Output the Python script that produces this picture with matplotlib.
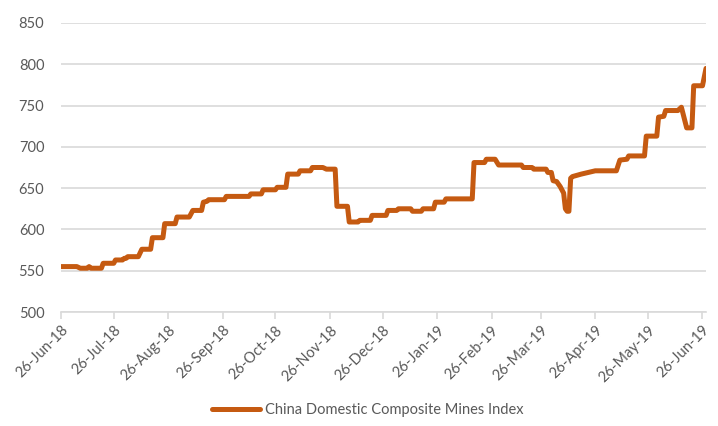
import pandas as pd
import matplotlib
matplotlib.use("Agg")
import matplotlib.pyplot as plt
import matplotlib.dates as mdates

# Index values (weekly steps)
dates = [
    "2018-06-26", "2018-07-05", "2018-07-07", "2018-07-11", "2018-07-12", "2018-07-13",
    "2018-07-19", "2018-07-20", "2018-07-26", "2018-07-27", "2018-07-31", "2018-08-01",
    "2018-08-02", "2018-08-03", "2018-08-09", "2018-08-11", "2018-08-16", "2018-08-17",
    "2018-08-23", "2018-08-24", "2018-08-30", "2018-08-31", "2018-09-07", "2018-09-09",
    "2018-09-14", "2018-09-15", "2018-09-17", "2018-09-18", "2018-09-27", "2018-09-28",
    "2018-10-11", "2018-10-12", "2018-10-18", "2018-10-19", "2018-10-26", "2018-10-27",
    "2018-11-01", "2018-11-02", "2018-11-08", "2018-11-09", "2018-11-15", "2018-11-16",
    "2018-11-22", "2018-11-24", "2018-11-29", "2018-11-30", "2018-12-06", "2018-12-07",
    "2018-12-12", "2018-12-13", "2018-12-19", "2018-12-20", "2018-12-28", "2018-12-29",
    "2019-01-03", "2019-01-04", "2019-01-11", "2019-01-12", "2019-01-17", "2019-01-18",
    "2019-01-24", "2019-01-25", "2019-01-30", "2019-01-31", "2019-02-15", "2019-02-16",
    "2019-02-22", "2019-02-23", "2019-02-28", "2019-03-02", "2019-03-15", "2019-03-16",
    "2019-03-21", "2019-03-22", "2019-03-29", "2019-03-30", "2019-04-01", "2019-04-02",
    "2019-04-04", "2019-04-06", "2019-04-08", "2019-04-09", "2019-04-10", "2019-04-11",
    "2019-04-12", "2019-04-13", "2019-04-18", "2019-04-24", "2019-04-26", "2019-05-08",
    "2019-05-10", "2019-05-14", "2019-05-15", "2019-05-24", "2019-05-25", "2019-05-31",
    "2019-06-01", "2019-06-04", "2019-06-05", "2019-06-12", "2019-06-14", "2019-06-17",
    "2019-06-20", "2019-06-21", "2019-06-26", "2019-06-28",
]
values = [
    555, 555, 553, 553, 555, 553,
    553, 559, 559, 563, 563, 565,
    565, 567, 567, 576, 576, 590,
    590, 607, 607, 615, 615, 623,
    623, 633, 634, 636, 636, 640,
    640, 643, 643, 648, 648, 651,
    651, 667, 667, 671, 671, 675,
    675, 673, 673, 628, 628, 609,
    609, 611, 611, 617, 617, 623,
    623, 625, 625, 622, 622, 625,
    625, 633, 633, 637, 637, 681,
    681, 685, 685, 678, 678, 675,
    675, 673, 673, 669, 669, 659,
    658, 652, 644, 625, 622, 622,
    662, 664, 667, 670, 671, 671,
    684, 685, 689, 689, 713, 713,
    736, 737, 744, 744, 748, 723,
    723, 774, 774, 795,
]
series_name = "China Domestic Composite Mines Index"
y_ticks = [500, 550, 600, 650, 700, 750, 800, 850]
x_tick_dates = pd.date_range("2018-06-26", periods=13, freq=pd.DateOffset(months=1))

plt.rcParams["font.family"] = ["Lato", "DejaVu Sans"]
label_color = "#595959"
grid_color = "#D9D9D9"
line_color = "#C55A11"

fig = plt.figure(figsize=(7.18, 4.26), dpi=100)
ax = fig.add_axes([61 / 718, 1 - 312 / 426, 645 / 718, 289 / 426])

x = pd.to_datetime(dates)
ax.plot(x, values, color=line_color, lw=3.6, label=series_name,
        solid_capstyle="round", solid_joinstyle="round")

ax.set_ylim(500, 850)
ax.set_yticks(y_ticks)
ax.set_xlim(x[0], x[-1])
ax.set_xticks(x_tick_dates)
ax.xaxis.set_major_formatter(mdates.DateFormatter("%d-%b-%y"))

ax.yaxis.grid(True, color=grid_color, lw=1.2)
ax.set_axisbelow(True)
for side in ["top", "left", "right"]:
    ax.spines[side].set_visible(False)
ax.spines["bottom"].set_color(grid_color)
ax.spines["bottom"].set_linewidth(1.2)

ax.tick_params(axis="y", length=0, pad=12, labelsize=10.5, labelcolor=label_color)
ax.tick_params(axis="x", length=5, width=1.2, color=grid_color, pad=3,
               labelsize=10.5, labelcolor=label_color)
for lbl in ax.get_xticklabels():
    lbl.set_rotation(45)
    lbl.set_ha("right")
    lbl.set_va("top")
    lbl.set_rotation_mode("anchor")

fig.legend(loc="center", bbox_to_anchor=(0.512, 0.037), frameon=False,
           fontsize=10.5, handlelength=3.3, handletextpad=0.3, labelcolor=label_color)

fig.savefig("out.png", dpi=100)
